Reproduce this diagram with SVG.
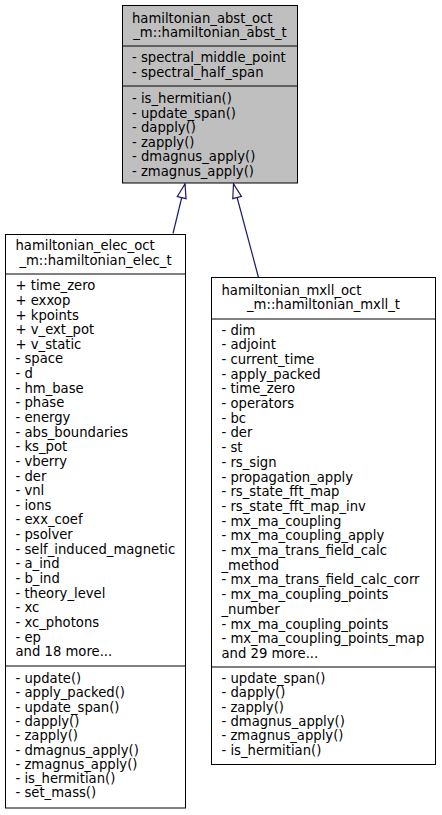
<svg xmlns="http://www.w3.org/2000/svg" width="442" height="815" viewBox="0 0 442 815">
<style>
text{font-family:"DejaVu Sans","Liberation Sans",sans-serif;font-size:13.2px;fill:#000}
.box{stroke:#000;stroke-width:1}
.sep{stroke:#000;stroke-width:1;fill:none}
.mid{text-anchor:middle}
.edge{stroke:#191970;stroke-width:1.2;fill:none;marker-end:url(#hollow)}
</style>
<defs>
<marker id="hollow" markerUnits="userSpaceOnUse" markerWidth="16" markerHeight="12" refX="14" refY="5" orient="auto" overflow="visible">
<path d="M0,0.5 L14,5 L0,9.5 Z" fill="#fff" stroke="#191970" stroke-width="1.2"/>
</marker>
</defs>
<rect width="442" height="815" fill="#fff"/>
<g id="connectors">
<path class="edge" d="M173,233.5 L185,184"/>
<path class="edge" d="M258.5,277.5 L233.5,184"/>
</g>
<g id="node_abst">
<rect class="box" x="122.5" y="5.5" width="175" height="177.5" fill="#bfbfbf"/>
<line class="sep" x1="122.5" y1="46" x2="297.5" y2="46"/>
<line class="sep" x1="122.5" y1="86" x2="297.5" y2="86"/>
<text x="132" y="22.5">hamiltonian_abst_oct</text>
<text class="mid" x="210" y="37">_m::hamiltonian_abst_t</text>
<text x="132" y="62">- spectral_middle_point</text>
<text x="132" y="76.5">- spectral_half_span</text>
<text x="132" y="103">- is_hermitian()</text>
<text x="132" y="117.5">- update_span()</text>
<text x="132" y="132">- dapply()</text>
<text x="132" y="146.5">- zapply()</text>
<text x="132" y="161">- dmagnus_apply()</text>
<text x="132" y="175.5">- zmagnus_apply()</text>
</g>
<g id="node_elec">
<rect class="box" x="5.5" y="234.5" width="180" height="573.5" fill="#fff"/>
<line class="sep" x1="5.5" y1="274" x2="185.5" y2="274"/>
<line class="sep" x1="5.5" y1="666" x2="185.5" y2="666"/>
<text x="15.5" y="250">hamiltonian_elec_oct</text>
<text class="mid" x="95.5" y="264.5">_m::hamiltonian_elec_t</text>
<text x="15.5" y="290.2">+ time_zero</text>
<text x="15.5" y="304.8">+ exxop</text>
<text x="15.5" y="319.5">+ kpoints</text>
<text x="15.5" y="334.1">+ v_ext_pot</text>
<text x="15.5" y="348.8">+ v_static</text>
<text x="15.5" y="363.4">- space</text>
<text x="15.5" y="378">- d</text>
<text x="15.5" y="392.7">- hm_base</text>
<text x="15.5" y="407.3">- phase</text>
<text x="15.5" y="422">- energy</text>
<text x="15.5" y="436.6">- abs_boundaries</text>
<text x="15.5" y="451.2">- ks_pot</text>
<text x="15.5" y="465.9">- vberry</text>
<text x="15.5" y="480.5">- der</text>
<text x="15.5" y="495.2">- vnl</text>
<text x="15.5" y="509.8">- ions</text>
<text x="15.5" y="524.4">- exx_coef</text>
<text x="15.5" y="539.1">- psolver</text>
<text x="15.5" y="553.7">- self_induced_magnetic</text>
<text x="15.5" y="568.4">- a_ind</text>
<text x="15.5" y="583">- b_ind</text>
<text x="15.5" y="597.6">- theory_level</text>
<text x="15.5" y="612.3">- xc</text>
<text x="15.5" y="626.9">- xc_photons</text>
<text x="15.5" y="641.6">- ep</text>
<text x="15.5" y="656.2">and 18 more...</text>
<text x="15.5" y="683">- update()</text>
<text x="15.5" y="697.3">- apply_packed()</text>
<text x="15.5" y="711.6">- update_span()</text>
<text x="15.5" y="725.9">- dapply()</text>
<text x="15.5" y="740.2">- zapply()</text>
<text x="15.5" y="754.5">- dmagnus_apply()</text>
<text x="15.5" y="768.8">- zmagnus_apply()</text>
<text x="15.5" y="783.1">- is_hermitian()</text>
<text x="15.5" y="797.4">- set_mass()</text>
</g>
<g id="node_mxll">
<rect class="box" x="211.5" y="277.5" width="224" height="487" fill="#fff"/>
<line class="sep" x1="211.5" y1="319" x2="435.5" y2="319"/>
<line class="sep" x1="211.5" y1="667" x2="435.5" y2="667"/>
<text x="221.5" y="295">hamiltonian_mxll_oct</text>
<text class="mid" x="323.5" y="309">_m::hamiltonian_mxll_t</text>
<text x="221.5" y="334.5">- dim</text>
<text x="221.5" y="349.2">- adjoint</text>
<text x="221.5" y="363.9">- current_time</text>
<text x="221.5" y="378.6">- apply_packed</text>
<text x="221.5" y="393.3">- time_zero</text>
<text x="221.5" y="408">- operators</text>
<text x="221.5" y="422.7">- bc</text>
<text x="221.5" y="437.4">- der</text>
<text x="221.5" y="452.1">- st</text>
<text x="221.5" y="466.8">- rs_sign</text>
<text x="221.5" y="481.5">- propagation_apply</text>
<text x="221.5" y="496.2">- rs_state_fft_map</text>
<text x="221.5" y="510.9">- rs_state_fft_map_inv</text>
<text x="221.5" y="525.6">- mx_ma_coupling</text>
<text x="221.5" y="540.3">- mx_ma_coupling_apply</text>
<text x="221.5" y="555">- mx_ma_trans_field_calc</text>
<text x="221.5" y="569.7">_method</text>
<text x="221.5" y="584.4">- mx_ma_trans_field_calc_corr</text>
<text x="221.5" y="599.1">- mx_ma_coupling_points</text>
<text x="221.5" y="613.8">_number</text>
<text x="221.5" y="628.5">- mx_ma_coupling_points</text>
<text x="221.5" y="643.2">- mx_ma_coupling_points_map</text>
<text x="221.5" y="657.9">and 29 more...</text>
<text x="221.5" y="683">- update_span()</text>
<text x="221.5" y="697.3">- dapply()</text>
<text x="221.5" y="711.7">- zapply()</text>
<text x="221.5" y="726">- dmagnus_apply()</text>
<text x="221.5" y="740.4">- zmagnus_apply()</text>
<text x="221.5" y="754.7">- is_hermitian()</text>
</g>
</svg>
